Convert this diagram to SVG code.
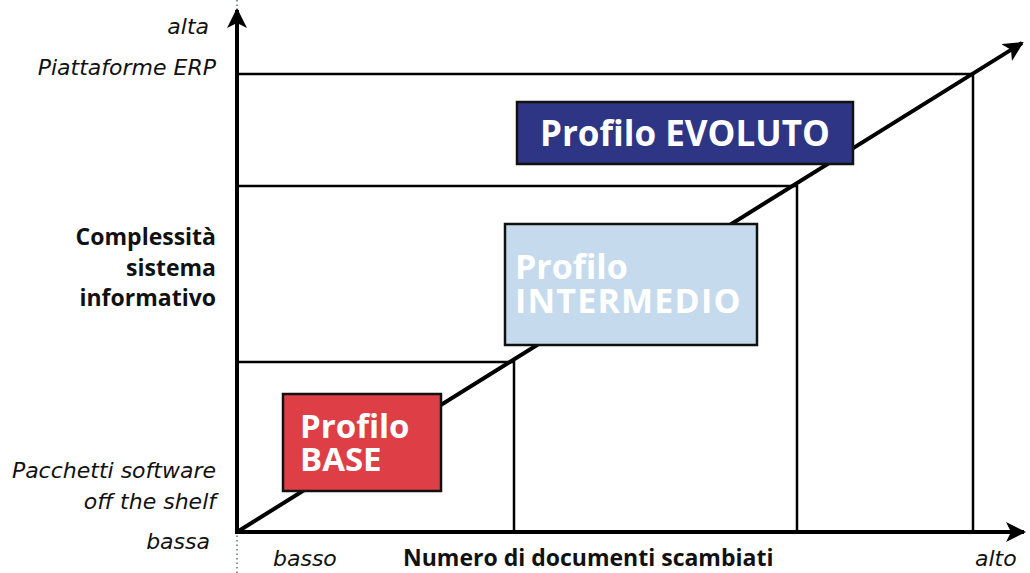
<svg xmlns="http://www.w3.org/2000/svg" width="1030" height="573" viewBox="0 0 1030 573">
<style>
.lab{font-family:"DejaVu Sans","Noto Sans",sans-serif;font-size:22px;fill:#111}
.it{font-style:italic;text-anchor:end}
.b{font-family:"Open Sans","Noto Sans",sans-serif;font-weight:bold;font-size:23px}
.r{text-anchor:end}
.box{stroke:#111;stroke-width:2.5}
.bt{font-family:"Open Sans","Noto Sans",sans-serif;font-weight:bold;fill:#fff}
.ln{stroke:#000;stroke-width:2.5;fill:none}
.ax{stroke:#000;stroke-width:4;fill:none}
</style>
<defs>
<marker id="ah" viewBox="0 0 10 10" refX="9" refY="5" markerWidth="5" markerHeight="5" orient="auto" markerUnits="strokeWidth">
<path d="M0,0 L10,5 L0,10 L2.5,5 z" fill="#000"/>
</marker>
</defs>
<rect width="1030" height="573" fill="#fff"/>
<line x1="237" y1="0" x2="237" y2="573" stroke="#8a9298" stroke-width="2" stroke-dasharray="1.5,3"/>
<g id="connectors">
<polyline class="ln" points="237,74 973,74 973,532"/>
<polyline class="ln" points="237,186 797,186 797,532"/>
<polyline class="ln" points="237,362 514,362 514,532"/>
<line class="ax" x1="237" y1="532" x2="1022" y2="43" marker-end="url(#ah)"/>
<line class="ax" x1="237" y1="534" x2="237" y2="10" marker-end="url(#ah)"/>
<line class="ax" x1="235" y1="532" x2="1024" y2="532" marker-end="url(#ah)"/>
</g>
<g id="evoluto">
<rect class="box" x="517" y="102" width="336" height="62" fill="#2e3584"/>
<text class="bt" x="540" y="146" font-size="35">Profilo EVOLUTO</text>
</g>
<g id="intermedio">
<rect class="box" x="505" y="224" width="252" height="121" fill="#c5dbed"/>
<text class="bt" x="515" y="279" font-size="34">Profilo</text>
<text class="bt" x="515" y="313" font-size="34" letter-spacing="1.2">INTERMEDIO</text>
</g>
<g id="base">
<rect class="box" x="283" y="394" width="158" height="97" fill="#de3e46"/>
<text class="bt" x="300" y="438" font-size="33">Profilo</text>
<text class="bt" x="300" y="471" font-size="33">BASE</text>
</g>
<g id="yaxis-labels">
<text class="lab it" x="209" y="34">alta</text>
<text class="lab it" x="216" y="75">Piattaforme ERP</text>
<text class="lab b r" x="216" y="245">Complessità</text>
<text class="lab b r" x="216" y="276">sistema</text>
<text class="lab b r" x="216" y="306">informativo</text>
<text class="lab it" x="216" y="478">Pacchetti software</text>
<text class="lab it" x="216" y="509">off the shelf</text>
<text class="lab it" x="210" y="549">bassa</text>
</g>
<g id="xaxis-labels">
<text class="lab" x="273" y="566" font-style="italic">basso</text>
<text class="lab b" x="403" y="566">Numero di documenti scambiati</text>
<text class="lab" x="975" y="566" font-style="italic">alto</text>
</g>
</svg>
